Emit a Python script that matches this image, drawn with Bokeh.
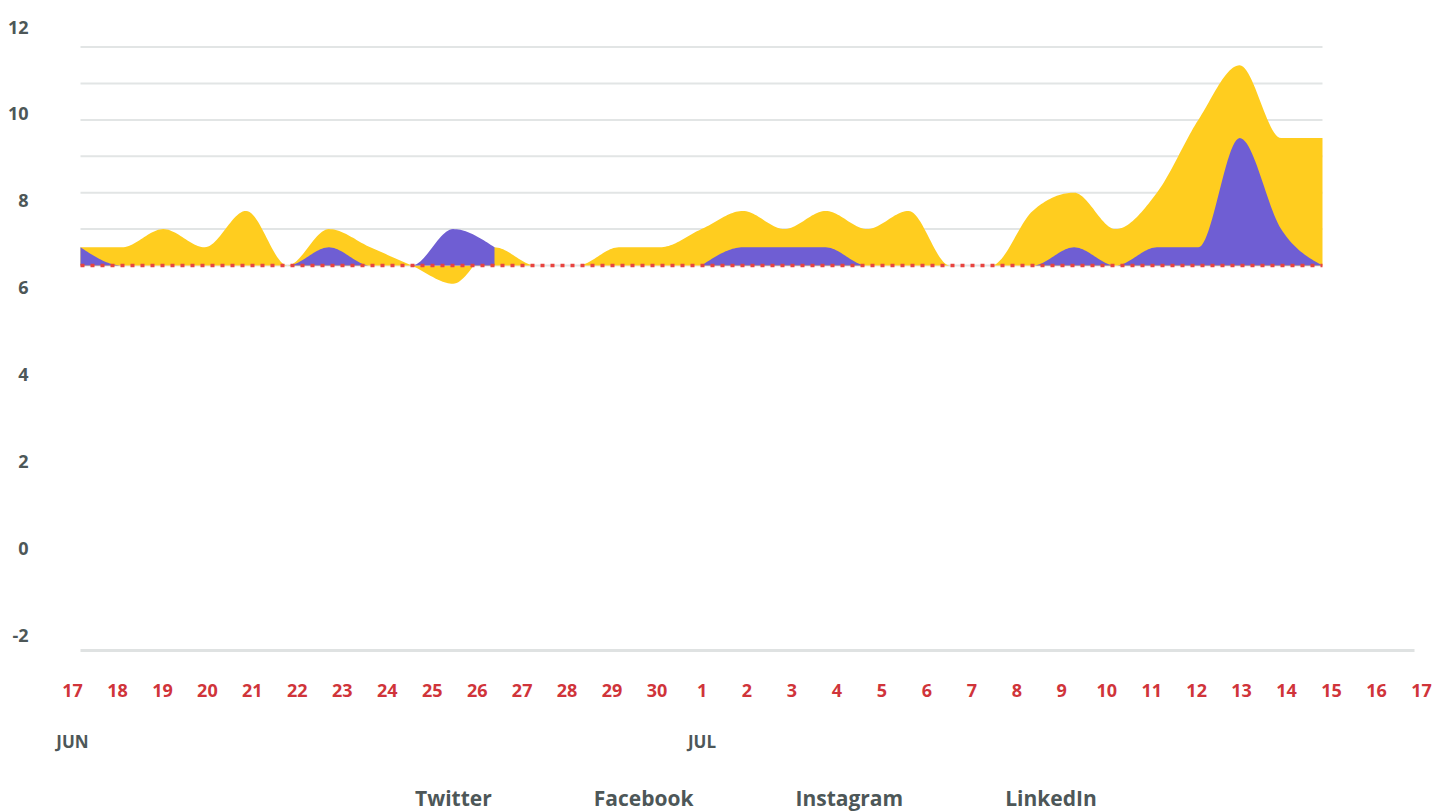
import numpy as np
import pandas as pd
from bokeh.plotting import figure
from bokeh.models import Range1d, LinearAxis, FixedTicker, Legend, LegendItem
from bokeh.embed import file_html
from bokeh.resources import INLINE

# ---------------- data ----------------
dates = pd.date_range("2023-06-17", "2023-07-17", freq="D")
day_labels = [str(d.day) for d in dates]
month_ticks = {i: d.strftime("%b").upper() for i, d in enumerate(dates) if i == 0 or d.day == 1}
y_tick_labels = [-2, 0, 2, 4, 6, 8, 10, 12]
grid_levels = [0, 1, 2, 3, 4, 5, 6]

twitter = [0] * 31
facebook = [0] * 31
instagram = [0.5, 0.5, 1.0, 0.5, 1.5, 0.0, 1.0, 0.5, 0.0, -0.5, 0.5, 0.0, 0.0, 0.5, 0.5, 1.0,
             1.5, 1.0, 1.5, 1.0, 1.5, 0.0, 0.0, 1.5, 2.0, 1.0, 2.0, 4.0, 5.5, 3.5, 3.5]
linkedin = [0.5, 0.0, 0.0, 0.0, 0.0, 0.0, 0.5, 0.0, 0.0, 1.0, 0.5, None, None, None, None, 0.0,
            0.5, 0.5, 0.5, 0.0, 0.0, 0.0, 0.0, 0.0, 0.5, 0.0, 0.5, 0.5, 3.5, 1.0, 0.0]

YELLOW = "#FFCD1F"
PURPLE = "#6F5ED3"
RED = "#E8433F"
GRID = "#E2E5E5"
TXT = "#4D5758"
DAYRED = "#D0343A"


def monotone(xs, ys, n=24):
    xs = np.asarray(xs, float)
    ys = np.asarray(ys, float)
    m = len(xs)
    if m < 2:
        return xs, ys
    h = np.diff(xs)
    s = np.diff(ys) / h
    t = np.zeros(m)
    sg = lambda v: -1.0 if v < 0 else 1.0
    for i in range(1, m - 1):
        s0, s1 = s[i - 1], s[i]
        p = (s0 * h[i] + s1 * h[i - 1]) / (h[i - 1] + h[i])
        t[i] = (sg(s0) + sg(s1)) * min(abs(s0), abs(s1), 0.5 * abs(p))
    if m > 2:
        t[0] = (3 * s[0] - t[1]) / 2
        t[-1] = (3 * s[-1] - t[-2]) / 2
    else:
        t[0] = t[-1] = s[0]
    ox, oy = [], []
    for i in range(m - 1):
        u = np.linspace(0, 1, n, endpoint=(i == m - 2))
        h00 = 2 * u**3 - 3 * u**2 + 1
        h10 = u**3 - 2 * u**2 + u
        h01 = -2 * u**3 + 3 * u**2
        h11 = u**3 - u**2
        ox.extend(xs[i] + u * h[i])
        oy.extend(h00 * ys[i] + h10 * h[i] * t[i] + h01 * ys[i + 1] + h11 * h[i] * t[i + 1])
    return np.array(ox), np.array(oy)


def segments(vals):
    segs, cur = [], []
    for i, v in enumerate(vals):
        if v is None:
            if cur:
                segs.append(cur)
            cur = []
        else:
            cur.append((i, v))
    if cur:
        segs.append(cur)
    return segs


idx = np.arange(len(dates))
AXIS_Y = -10.577  # level of the date axis line (below the data)

p = figure(width=1452, height=812,
           x_range=Range1d(-0.7246, 32.947), y_range=Range1d(-15.027, 7.005),
           output_backend="svg", toolbar_location=None,
           x_axis_location=None, y_axis_location=None,
           min_border_left=50, min_border_right=8, min_border_top=10, min_border_bottom=0,
           outline_line_color=None, background_fill_color="white", border_fill_color="white")
p.xgrid.visible = False
p.ygrid.visible = False

p.extra_x_ranges = {"lab": Range1d(-0.4892, 30.5115)}
p.extra_y_ranges = {"ylab": Range1d(-6.065, 12.380)}

# gridlines over the data extent
p.segment(x0=[idx[0]] * len(grid_levels), x1=[idx[-1]] * len(grid_levels),
          y0=grid_levels, y1=grid_levels, line_color=GRID, line_width=2)

# areas (overlaid, not stacked)
fb_x, fb_y = monotone(idx, facebook)
r_fb = p.varea(x=fb_x, y1=0, y2=fb_y, fill_color="#4A90D9", fill_alpha=1)
ix, iy = monotone(idx, instagram)
r_ig = p.varea(x=ix, y1=0, y2=iy, fill_color=YELLOW)
r_li = None
for seg in segments(linkedin):
    sx, sy = monotone([a for a, _ in seg], [b for _, b in seg])
    r = p.varea(x=sx, y1=0, y2=sy, fill_color=PURPLE)
    if r_li is None:
        r_li = r
r_tw = p.line(x=idx, y=twitter, line_color=RED, line_width=3.5, line_dash="4 6")

# y axis labels
yax = LinearAxis(y_range_name="ylab", ticker=FixedTicker(ticks=y_tick_labels),
                 major_label_overrides={v: str(v) for v in y_tick_labels},
                 axis_line_color=None, major_tick_line_color=None, minor_tick_line_color=None,
                 major_tick_out=0, major_tick_in=0, major_label_standoff=22,
                 major_label_text_font="Open Sans", major_label_text_font_style="bold",
                 major_label_text_font_size="18px", major_label_text_color=TXT)
p.add_layout(yax, "left")

# bottom axis line (no labels)
lax = LinearAxis(ticker=FixedTicker(ticks=[]), fixed_location=AXIS_Y, bounds=(0, 32.22),
                 axis_line_color="#DFE2E2", axis_line_width=3,
                 major_tick_line_color=None, minor_tick_line_color=None,
                 major_label_text_alpha=0)
p.add_layout(lax, "below")

# day axis
dax = LinearAxis(x_range_name="lab", ticker=FixedTicker(ticks=list(idx)),
                 major_label_overrides={int(i): l for i, l in zip(idx, day_labels)},
                 fixed_location=AXIS_Y, axis_line_color=None,
                 major_tick_line_color=None, minor_tick_line_color=None,
                 major_tick_out=0, major_tick_in=0, major_label_standoff=33,
                 major_label_text_font="Open Sans", major_label_text_font_style="bold",
                 major_label_text_font_size="18px", major_label_text_color=DAYRED)
p.add_layout(dax, "below")

# month axis
max_ = LinearAxis(x_range_name="lab", ticker=FixedTicker(ticks=list(month_ticks.keys())),
                  major_label_overrides=month_ticks, fixed_location=AXIS_Y,
                  axis_line_color=None, major_tick_line_color=None, minor_tick_line_color=None,
                  major_tick_out=0, major_tick_in=0, major_label_standoff=79,
                  major_label_text_font="Open Sans", major_label_text_font_style="bold",
                  major_label_text_font_size="17px", major_label_text_color=TXT)
p.add_layout(max_, "below")

legend = Legend(items=[LegendItem(label="Twitter", renderers=[r_tw]),
                       LegendItem(label="Facebook", renderers=[r_fb]),
                       LegendItem(label="Instagram", renderers=[r_ig]),
                       LegendItem(label="LinkedIn", renderers=[r_li])],
                orientation="horizontal", location=(365, 0),
                glyph_width=0, glyph_height=20, label_standoff=0, spacing=102,
                padding=0, margin=0, border_line_color=None, background_fill_alpha=0,
                label_text_font="Open Sans", label_text_font_style="bold",
                label_text_font_size="21px", label_text_color=TXT)
p.add_layout(legend, "center")

open("out.html", "w").write(file_html(p, INLINE))
